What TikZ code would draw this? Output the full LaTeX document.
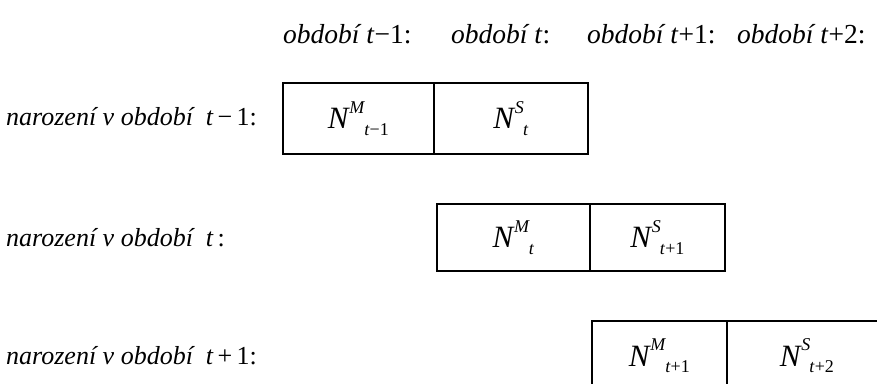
\documentclass[tikz,border=0pt]{standalone}
\usepackage{fontspec}
\setmainfont{Liberation Serif}
% N with a superscript and a following subscript, as in N^M_{t-1}
\newcommand\Ncell[2]{\textit{N}\kern-0.02em\raisebox{0.5em}{\fontsize{18}{18}\selectfont\textit{#1}}\kern-0.03em\raisebox{-0.2em}{\fontsize{18}{18}\selectfont #2}}
\begin{document}
\begin{tikzpicture}[x=1pt,y=-1pt,
  cellbox/.style={draw, line width=1.8pt, inner sep=0pt, anchor=north west,
    font=\fontsize{31}{31}\selectfont},
  period/.style={anchor=base west, inner sep=0pt, font=\fontsize{27.5}{27.5}\selectfont\itshape},
  rowlabel/.style={anchor=base west, inner sep=0pt, font=\fontsize{26}{26}\selectfont\itshape}]
\useasboundingbox (0,0) rectangle (877,383);
\clip (0,0) rectangle (877,383);

% column headings
\node[period] (h1) at (283,43) {období \textit{t}\textup{−1:}};
\node[period] (h2) at (451,43) {období \textit{t}\textup{:}};
\node[period] (h3) at (587,43) {období \textit{t}\textup{+1:}};
\node[period] (h4) at (737,43) {období \textit{t}\textup{+2:}};

% row labels
\node[rowlabel] (r1) at (6,125) {narození v období~~\textit{t}\,\textup{−\,1:}};
\node[rowlabel] (r2) at (6,246) {narození v období~~\textit{t}\,\textup{:}};
\node[rowlabel] (r3) at (6,364) {narození v období~~\textit{t}\,\textup{+\,1:}};

% cohort born in t-1
\node[cellbox, minimum width=151pt, minimum height=71pt] (m1) at (282,82) {\Ncell{M}{\textit{t}−1}};
\node[cellbox, minimum width=154pt, minimum height=71pt] (s1) at (433,82) {\Ncell{S}{\textit{t}}};

% cohort born in t
\node[cellbox, minimum width=153pt, minimum height=67pt] (m2) at (436,203) {\Ncell{M}{\textit{t}}};
\node[cellbox, minimum width=135pt, minimum height=67pt] (s2) at (589,203) {\Ncell{S}{\textit{t}+1}};

% cohort born in t+1
\node[cellbox, minimum width=135pt, minimum height=70pt] (m3) at (591,320) {\Ncell{M}{\textit{t}+1}};
\node[cellbox, minimum width=160pt, minimum height=70pt] (s3) at (726,320) {\Ncell{S}{\textit{t}+2}};
\end{tikzpicture}
\end{document}
